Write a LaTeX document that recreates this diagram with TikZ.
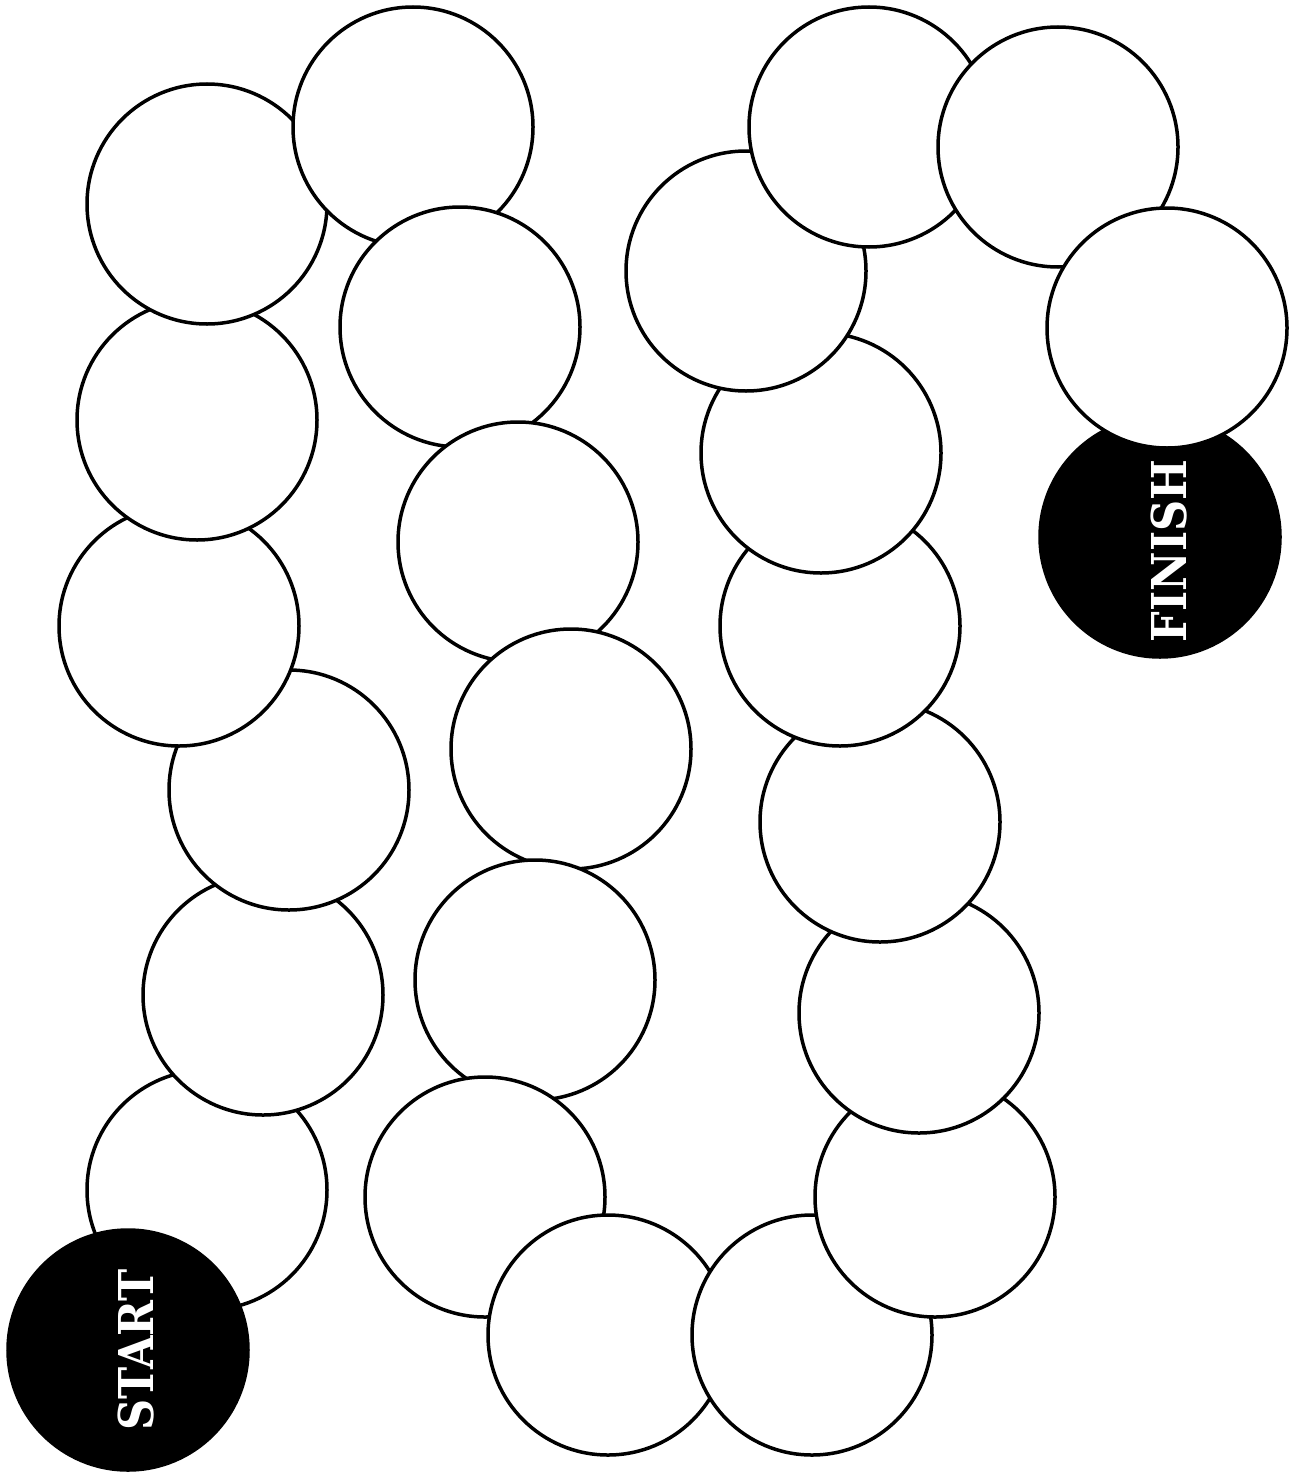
\documentclass[tikz,border=0pt]{standalone}
\usepackage{fontspec}
\newfontfamily\slab{DejaVu Serif Condensed}
\tikzset{spot/.style={draw,circle,fill=white,line width=3.5pt,minimum size=240pt,inner sep=0pt},goal/.style={spot,fill=black},lbl/.style={text=white,rotate=90,inner sep=0pt,font=\slab\bfseries\fontsize{48}{48}\selectfont}}

\begin{document}
\begin{tikzpicture}[x=1pt,y=-1pt]
\useasboundingbox(0,0)rectangle(1296,1472);
\node[goal](finish)at(1160,537){};
\foreach\n/\a/\b in{2/207/1190,3/263/995,4/289/790,5/179/626,6/197/420,7/207/204,8/413/127,9/460/327,10/518/542,11/571/749,12/535/980,13/485/1197,14/608/1335,15/812/1335,16/935/1197,17/919/1013,18/880/822,19/840/626,20/821/453,21/746/271,22/869/127,23/1058/147,24/1167/328}\node[spot](s\n)at(\a,\b){};
\node[goal](start)at(128,1350){};
\node[lbl](finishtext)at(1169,551){FINISH};\node[lbl](starttext)at(136,1350){START};
\end{tikzpicture}
\end{document}
